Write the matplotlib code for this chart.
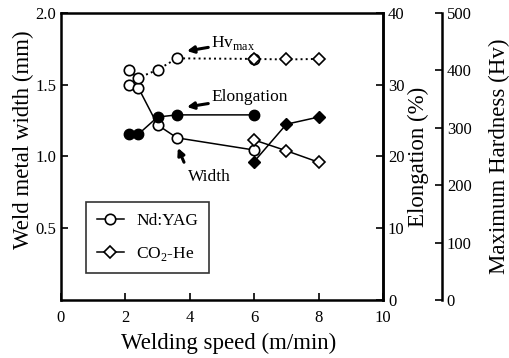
import matplotlib
matplotlib.use("Agg")
import matplotlib.pyplot as plt
from matplotlib.lines import Line2D

plt.rcParams['font.family'] = ['Liberation Serif', 'DejaVu Serif']
plt.rcParams['mathtext.fontset'] = 'custom'
plt.rcParams['mathtext.rm'] = 'Liberation Serif'

# Nd:YAG (circles)
yag_speed = [2.1, 2.4, 3.0, 3.6, 6.0]
yag_width = [1.50, 1.48, 1.22, 1.13, 1.045]
yag_elong = [23.1, 23.1, 25.5, 25.8, 25.8]
yag_hv = [400, 387, 401, 421, 420]

# CO2-He (diamonds)
co2_speed = [6.0, 7.0, 8.0]
co2_width = [1.115, 1.04, 0.96]
co2_elong = [19.3, 24.5, 25.5]
co2_hv = [420, 419, 420]

fig = plt.figure(figsize=(5.09, 3.58), dpi=100)
ax = fig.add_axes([0.1198, 0.162, 0.6327, 0.8017])
ax_el = ax.twinx()
ax_hv = ax.twinx()
ax_hv.spines['right'].set_position(('axes', 1.183))
for a in (ax_el, ax_hv):
    a.spines['top'].set_visible(False)
    a.spines['left'].set_visible(False)
    a.spines['bottom'].set_visible(False)
ax_hv.patch.set_visible(False)

ms = 7.5
lw = 1.1
# width (solid, open)
ax.plot(yag_speed, yag_width, '-o', color='k', mfc='white', mec='k', ms=ms, lw=lw, mew=1.2)
ax.plot(co2_speed, co2_width, '-D', color='k', mfc='white', mec='k', ms=ms - 1, lw=lw, mew=1.2)
# elongation (solid, filled)
ax_el.plot(yag_speed, yag_elong, '-o', color='k', mfc='k', mec='k', ms=ms, lw=lw)
ax_el.plot(co2_speed, co2_elong, '-D', color='k', mfc='k', mec='k', ms=ms - 1, lw=lw)
# hardness (dotted, open)
ax_hv.plot(yag_speed, yag_hv, ':o', color='k', mfc='white', mec='k', ms=ms, lw=lw + 0.3, mew=1.2)
ax_hv.plot(co2_speed, co2_hv, ':D', color='k', mfc='white', mec='k', ms=ms - 1, lw=lw + 0.3, mew=1.2)

ax.set_xlim(0, 10)
ax.set_ylim(0, 2.0)
ax_el.set_ylim(0, 40)
ax_hv.set_ylim(0, 500)

ax.set_xticks([0, 2, 4, 6, 8, 10])
ax.set_yticks([0.5, 1.0, 1.5, 2.0])
ax.set_yticklabels(['0.5', '1.0', '1.5', '2.0'])
ax_el.set_yticks([0, 10, 20, 30, 40])
ax_hv.set_yticks([0, 100, 200, 300, 400, 500])

for a in (ax, ax_el, ax_hv):
    a.tick_params(direction='in', length=5, width=1.2, labelsize=12)
ax.tick_params(axis='x', pad=7)
for s in ax.spines.values():
    s.set_linewidth(1.8)
ax_el.spines['right'].set_linewidth(1.8)
ax_hv.spines['right'].set_linewidth(1.8)

lab_fs = 16.5
ax.set_xlabel('Welding speed (m/min)', fontsize=lab_fs)
ax.set_ylabel('Weld metal width (mm)', fontsize=lab_fs)
ax_el.set_ylabel('Elongation (%)', fontsize=lab_fs)
ax_hv.set_ylabel('Maximum Hardness (Hv)', fontsize=lab_fs)
ax.xaxis.label.set_va('center')
ax.xaxis.set_label_coords(0.52, -0.15)
for a, xc, yc in ((ax, -0.118, 0.56), (ax_el, 1.109, 0.5), (ax_hv, 1.36, 0.5)):
    a.yaxis.label.set_va('center')
    a.yaxis.set_label_coords(xc, yc)

arrow = dict(arrowstyle='-|>', color='k', lw=2.2, mutation_scale=10, shrinkA=0, shrinkB=0)
ax.annotate('Hv$_{\\rm max}$', xy=(3.91, 1.735), xytext=(4.66, 1.79), fontsize=12.5,
            va='center', ha='left', arrowprops=arrow)
ax.annotate('Elongation', xy=(3.91, 1.345), xytext=(4.66, 1.415), fontsize=12.5,
            va='center', ha='left', arrowprops=arrow)
ax.annotate('', xy=(3.63, 1.06), xytext=(3.82, 0.96), arrowprops=arrow)
ax.text(3.94, 0.86, 'Width', fontsize=12.5, va='center', ha='left')

handles = [Line2D([], [], color='k', marker='o', mfc='white', mec='k', ms=ms, lw=lw, mew=1.2),
           Line2D([], [], color='k', marker='D', mfc='white', mec='k', ms=ms - 1, lw=lw, mew=1.2)]
leg = ax.legend(handles, ['Nd:YAG', 'CO$_2$-He'], loc='lower left', bbox_to_anchor=(0.078, 0.094),
                borderaxespad=0, fontsize=12.5, frameon=True, fancybox=False, edgecolor='k',
                handlelength=1.6, handletextpad=0.7, labelspacing=0.9, borderpad=0.6)
leg.get_frame().set_linewidth(1.2)

fig.savefig('out.png', dpi=100)
